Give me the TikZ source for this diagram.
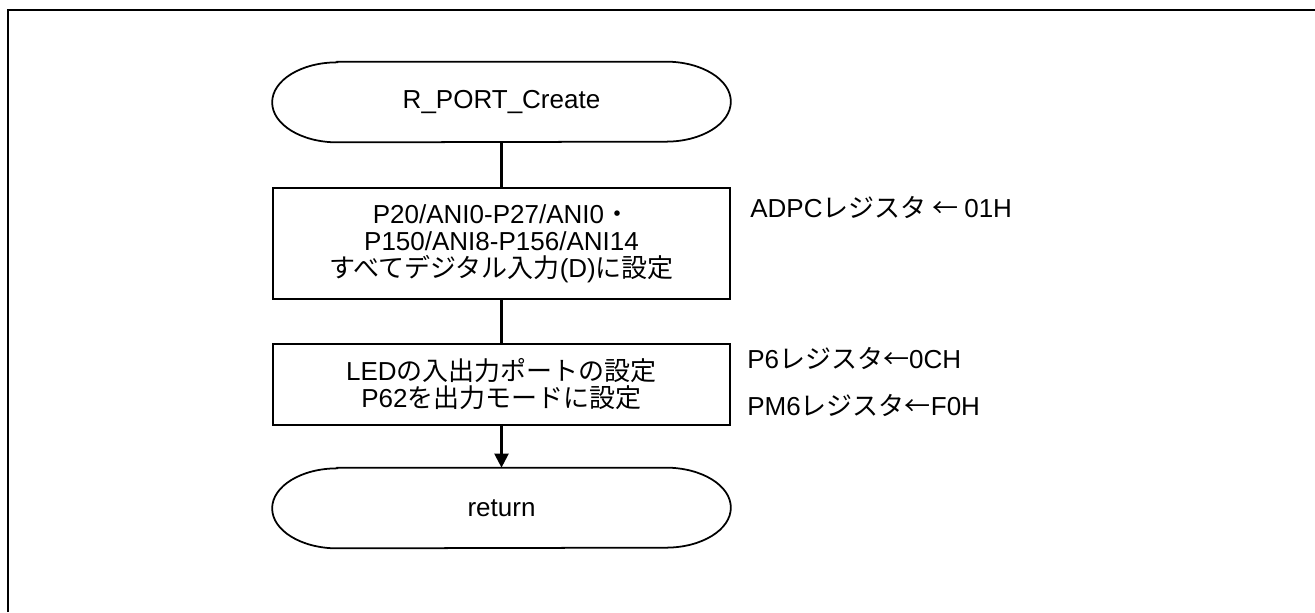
\documentclass[tikz,border=0pt]{standalone}
\usepackage{fontspec}
\setmainfont{Liberation Sans}
\newfontfamily\jpfont{Noto Sans CJK JP}
\newcommand{\ja}[1]{{\jpfont #1}}
\setlength{\lineskiplimit}{-20pt}
\usetikzlibrary{arrows.meta}

\begin{document}
\begin{tikzpicture}[
    every node/.style={font=\fontsize{14.8}{15.3}\selectfont, align=center, inner sep=0pt},
    term/.style={minimum width=9.16cm, minimum height=1.6cm},
    proc/.style={draw, line width=1pt, minimum width=9.14cm},
    note/.style={anchor=west},
    flow/.style={line width=1.3pt}
]
\useasboundingbox (0,0) rectangle (26.3,-12.24);

% ----- frame -----
\draw[line width=1.2pt] (0.16,-12.24) -- (0.16,-0.2) -- (26.3,-0.2);

% ----- start -----
\node[term] (start) at (10.03,-2.04) {R\_PORT\_Create};

% ----- process -----
\node[proc, minimum height=2.22cm] (adpc) at (10.03,-4.87)
    {P20/ANI0-P27/ANI0\ja{・}\\P150/ANI8-P156/ANI14\\\ja{すべてデジタル入力}(D)\ja{に設定}};
\node[proc, minimum height=1.62cm] (led) at (10.03,-7.69)
    {LED\ja{の入出力ポートの設定}\\P62\ja{を出力モードに設定}};

% ----- end -----
\node[term] (ret) at (10.03,-10.16) {return};

% ----- terminal outline -----
\foreach \t in {start,ret}
  \draw[line width=1pt] ([xshift=1.3cm]\t.north west) -- ([xshift=-1.3cm]\t.north east)
    arc[start angle=90, end angle=-90, x radius=1.3cm, y radius=0.8cm]
    -- ([xshift=1.3cm]\t.south west)
    arc[start angle=270, end angle=90, x radius=1.3cm, y radius=0.8cm] -- cycle;

% ----- notes -----
\node[note] (adpcnote) at (15.0,-4.14) {ADPC\ja{レジスタ ← }01H};
\node[note] (p6note)   at (14.94,-7.16) {P6\ja{レジスタ←}0CH};
\node[note] (pm6note)  at (14.94,-8.1)  {PM6\ja{レジスタ←}F0H};

% ----- connectors -----
\draw[flow] (start) -- (adpc);
\draw[flow] (adpc) -- (led);
\draw[flow, -{Triangle[length=8pt,width=8pt]}] (led) -- (ret);

\end{tikzpicture}
\end{document}
